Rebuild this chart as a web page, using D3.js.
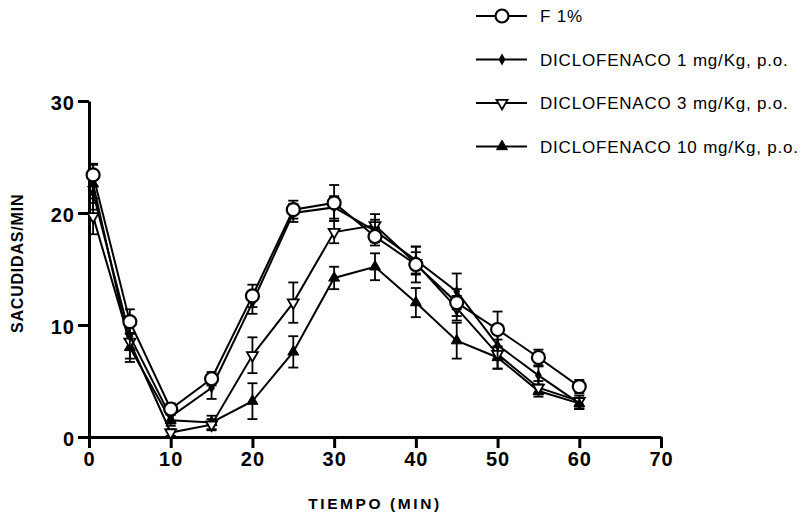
<!DOCTYPE html>
<html>
<head>
<meta charset="utf-8">
<script src="https://cdn.jsdelivr.net/npm/d3@7"></script>
<style>
  body { margin: 0; background: #fff; }
  svg { font-family: "Liberation Sans", Arial, sans-serif; }
  .tick text { font-size: 20px; font-weight: bold; }
</style>
</head>
<body>
<div class="chart"></div>
<script>
//Time points (min) and mean +/- error for each group

var times = [0.5, 5, 10, 15, 20, 25, 30, 35, 40, 45, 50, 55, 60];

var f1 = [23.4, 10.3, 2.5, 5.2, 12.6, 20.3, 20.9, 17.9, 15.4, 12.0, 9.6, 7.1, 4.5];
var f1Err = [1.0, 1.1, 0.5, 0.6, 1.0, 0.8, 1.6, 0.8, 1.6, 1.2, 1.6, 0.7, 0.6];

var dic1 = [21.8, 9.0, 1.8, 4.4, 12.0, 20.0, 20.5, 18.4, 15.8, 13.0, 8.2, 5.5, 3.0];
var dic1Err = [1.5, 1.2, 0.6, 1.0, 1.0, 0.8, 1.0, 1.0, 1.2, 1.6, 1.2, 0.8, 0.5];

var dic3 = [19.7, 8.5, 0.4, 1.1, 7.3, 12.0, 18.3, 18.9, 15.5, 11.5, 7.4, 4.4, 3.2];
var dic3Err = [1.6, 1.5, 0.3, 0.5, 1.6, 1.8, 1.0, 1.0, 1.0, 1.1, 1.3, 0.6, 0.5];

var dic10 = [22.6, 8.0, 1.5, 1.3, 3.2, 7.6, 14.2, 15.2, 12.0, 8.6, 7.1, 4.1, 3.0];
var dic10Err = [1.7, 1.3, 0.5, 0.6, 1.6, 1.4, 1.0, 1.2, 1.3, 1.6, 1.0, 0.5, 0.5];

var seriesNames = ["F 1%", "DICLOFENACO 1 mg/Kg, p.o.", "DICLOFENACO 3 mg/Kg, p.o.", "DICLOFENACO 10 mg/Kg, p.o."];
var xTicks = [0, 10, 20, 30, 40, 50, 60, 70];
var yTicks = [0, 10, 20, 30];

//Size and margins

var svgwidth = 812;
var svgheight = 512;

var margin = {
    top: 101,
    right: 151,
    bottom: 75,
    left: 89,
}

var width = svgwidth - margin.left - margin.right;
var height = svgheight - margin.top - margin.bottom;

var svg = d3.select(".chart")
            .append("svg")
            .attr("width", svgwidth)
            .attr("height", svgheight);

var chartGroup = svg.append("g")
                .attr("transform", `translate(${margin.left}, ${margin.top})`);

//Scales

var xLinearScale = d3.scaleLinear()
        .domain([0, 70])
        .range([0, width]);

var yLinearScale = d3.scaleLinear()
        .domain([0, 30])
        .range([height, 0]);

//Axes

var bottomAxis = d3.axisBottom(xLinearScale)
        .tickValues(xTicks)
        .tickSize(11)
        .tickPadding(4)
        .tickSizeOuter(0);

var leftAxis = d3.axisLeft(yLinearScale)
        .tickValues(yTicks)
        .tickSize(11)
        .tickPadding(3)
        .tickSizeOuter(0);

var xAxisG = chartGroup.append("g")
        .attr("transform", `translate(0, ${height})`)
        .call(bottomAxis);

var yAxisG = chartGroup.append("g")
        .call(leftAxis);

[xAxisG, yAxisG].forEach(function(g) {
    g.selectAll("path, line").attr("stroke", "#000").attr("stroke-width", 3);
    g.selectAll("text").attr("fill", "#000").style("letter-spacing", "1px");
});
yAxisG.selectAll("text").attr("dy", "0.4em");

//Series with markers

var symTri = d3.symbol().type(d3.symbolTriangle).size(52);

var series = [
    { name: seriesNames[0], values: f1, err: f1Err, marker: "circle" },
    { name: seriesNames[1], values: dic1, err: dic1Err, marker: "diamond" },
    { name: seriesNames[2], values: dic3, err: dic3Err, marker: "triDown" },
    { name: seriesNames[3], values: dic10, err: dic10Err, marker: "triUp" }
];

function drawMarker(g, type) {
    if (type === "circle") {
        g.append("circle").attr("r", 6.5)
            .attr("fill", "#fff").attr("stroke", "#000").attr("stroke-width", 2.2);
    } else if (type === "diamond") {
        g.append("path").attr("d", d3.symbol().type(d3.symbolDiamond).size(40)())
            .attr("fill", "#000");
    } else if (type === "triDown") {
        g.append("path").attr("d", symTri())
            .attr("transform", "rotate(180)")
            .attr("fill", "#fff").attr("stroke", "#000").attr("stroke-width", 1.8);
    } else {
        g.append("path").attr("d", symTri())
            .attr("fill", "#000").attr("stroke", "#000").attr("stroke-width", 1);
    }
}

var line = d3.line()
    .x(d => xLinearScale(d.t))
    .y(d => yLinearScale(d.v));

//draw from last to first so F 1% stays on top
series.slice().reverse().forEach(function(s) {
    var pts = times.map((t, i) => ({ t: t, v: s.values[i], e: s.err[i] }));
    var g = chartGroup.append("g");

    // error bars
    var eb = g.selectAll(".err").data(pts).enter().append("g")
        .attr("stroke", "#000").attr("stroke-width", 1.8);
    eb.append("line")
        .attr("x1", d => xLinearScale(d.t)).attr("x2", d => xLinearScale(d.t))
        .attr("y1", d => yLinearScale(d.v - d.e)).attr("y2", d => yLinearScale(d.v + d.e));
    eb.append("line")
        .attr("x1", d => xLinearScale(d.t) - 5).attr("x2", d => xLinearScale(d.t) + 5)
        .attr("y1", d => yLinearScale(d.v + d.e)).attr("y2", d => yLinearScale(d.v + d.e));
    eb.append("line")
        .attr("x1", d => xLinearScale(d.t) - 5).attr("x2", d => xLinearScale(d.t) + 5)
        .attr("y1", d => yLinearScale(d.v - d.e)).attr("y2", d => yLinearScale(d.v - d.e));

    g.append("path")
        .datum(pts)
        .attr("d", line)
        .attr("fill", "none")
        .attr("stroke", "#000")
        .attr("stroke-width", 2);

    g.selectAll(".mk").data(pts).enter().append("g")
        .attr("transform", d => `translate(${xLinearScale(d.t)}, ${yLinearScale(d.v)})`)
        .each(function() { drawMarker(d3.select(this), s.marker); });
});

//Legend

var legend = svg.append("g").attr("transform", "translate(476, 16)");

series.forEach(function(s, i) {
    var row = legend.append("g").attr("transform", `translate(0, ${i * 43.5})`);
    row.append("line")
        .attr("x1", 0).attr("x2", 51)
        .attr("stroke", "#000").attr("stroke-width", 2);
    var m = row.append("g").attr("transform", "translate(26, 0)");
    drawMarker(m, s.marker);
    row.append("text")
        .attr("x", 64)
        .attr("y", 6)
        .attr("font-size", "17px")
        .style("letter-spacing", "0.8px")
        .attr("fill", "#000")
        .text(s.name);
});

//Axis labels

chartGroup.append("text")
    .attr("transform", `translate(-66, ${yLinearScale(15.5)}) rotate(-90)`)
    .attr("text-anchor", "middle")
    .attr("font-size", "16px")
    .attr("font-weight", "bold")
    .style("letter-spacing", "0.8px")
    .text("SACUDIDAS/MIN");

chartGroup.append("text")
    .attr("transform", `translate(${width / 2}, ${height + 72})`)
    .attr("text-anchor", "middle")
    .attr("font-size", "15.5px")
    .attr("font-weight", "bold")
    .style("letter-spacing", "2.6px")
    .text("TIEMPO (MIN)");
</script>
</body>
</html>
